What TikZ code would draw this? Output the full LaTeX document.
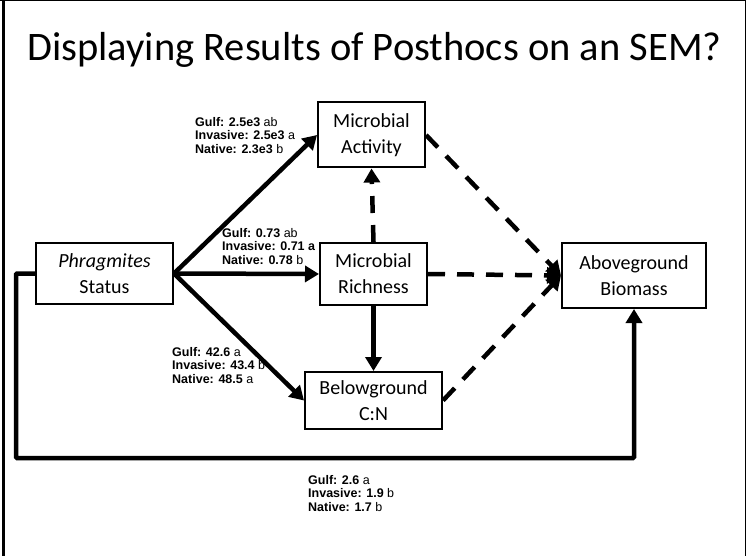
\documentclass[tikz,border=0pt]{standalone}
\usepackage{fontspec}
\setmainfont{Carlito}
\newfontfamily\arialfont{Liberation Sans}
\usetikzlibrary{arrows.meta, calc}

\tikzset{
  box/.style={draw, line width=2pt, align=center, inner sep=0pt,
    font=\fontsize{20}{26}\selectfont},
  link/.style={line width=4.5pt, -{Triangle[length=14pt, width=16pt]}},
  dlink/.style={link, dash pattern=on 17pt off 12pt},
  stat/.style={anchor=north west, align=left, inner sep=0pt,
    font=\arialfont\fontsize{12.5}{13.5}\selectfont},
}

\begin{document}
\begin{tikzpicture}[x=1pt, y=-1pt]
    \useasboundingbox (0,0) rectangle (746,556);

    % Slide frame
    \fill[white] (0,0) rectangle (746,556);
    \draw[line width=3pt] (3,0) -- (3,556);
    \draw[line width=1pt] (0,1) -- (746,1);
    \draw[line width=1pt] (745.5,0) -- (745.5,556);

    % Title
    \node[anchor=base, font=\fontsize{40.5}{48}\selectfont] (title) at (374.5,61)
        {Displaying Results of Posthocs on an SEM?};

    % ==== Boxes ====
    \node[box, minimum width=137pt, minimum height=61pt] (phr) at (104.5,273.5)
        {\textit{Phragmites}\\Status};
    \node[box, minimum width=107pt, minimum height=65pt] (act) at (371.5,135)
        {Microbial\\Activity};
    \node[box, minimum width=107pt, minimum height=62pt] (rich) at (373.5,274)
        {Microbial\\Richness};
    \node[box, minimum width=137pt, minimum height=57pt] (bel) at (373.5,400.5)
        {Belowground\\C:N};
    \node[box, minimum width=144pt, minimum height=65pt] (abg) at (634,275.5)
        {Aboveground\\Biomass};

    % ==== Paths from Phragmites status ====
    \draw[link] (phr.east) -- (act.west);
    \draw[link] (phr.east) -- (rich.west);
    \draw[link] (phr.east) -- (bel.west);
    \coordinate (loop) at (16,458);
    \draw[link, rounded corners=1pt] (phr.west) -- (phr.west -| loop) -- (loop) -| (abg.south);

    % Paths among microbial / soil variables
    \draw[dlink] (rich.north) -- (act.south);
    \draw[link] (rich.south) -- (bel.north);

    % Dashed paths to aboveground biomass
    \draw[dlink] (act.east) -- (abg.west);
    \draw[dlink] (rich.east) -- (abg.west);
    \draw[dlink] (bel.east) -- (abg.west);

    % ==== Posthoc labels ====
    \node[stat] (sact) at (195,117)
        {\textbf{Gulf: 2.5e3} ab\\\textbf{Invasive: 2.5e3} a\\\textbf{Native: 2.3e3} b};
    \node[stat] (srich) at (222,228)
        {\textbf{Gulf: 0.73} ab\\\textbf{Invasive: 0.71 a}\\\textbf{Native: 0.78} b};
    \node[stat] (sbel) at (172,347)
        {\textbf{Gulf: 42.6} a\\\textbf{Invasive: 43.4} b\\\textbf{Native: 48.5} a};
    \node[stat] (sabg) at (308,475)
        {\textbf{Gulf: 2.6} a\\\textbf{Invasive: 1.9} b\\\textbf{Native: 1.7} b};
\end{tikzpicture}
\end{document}
